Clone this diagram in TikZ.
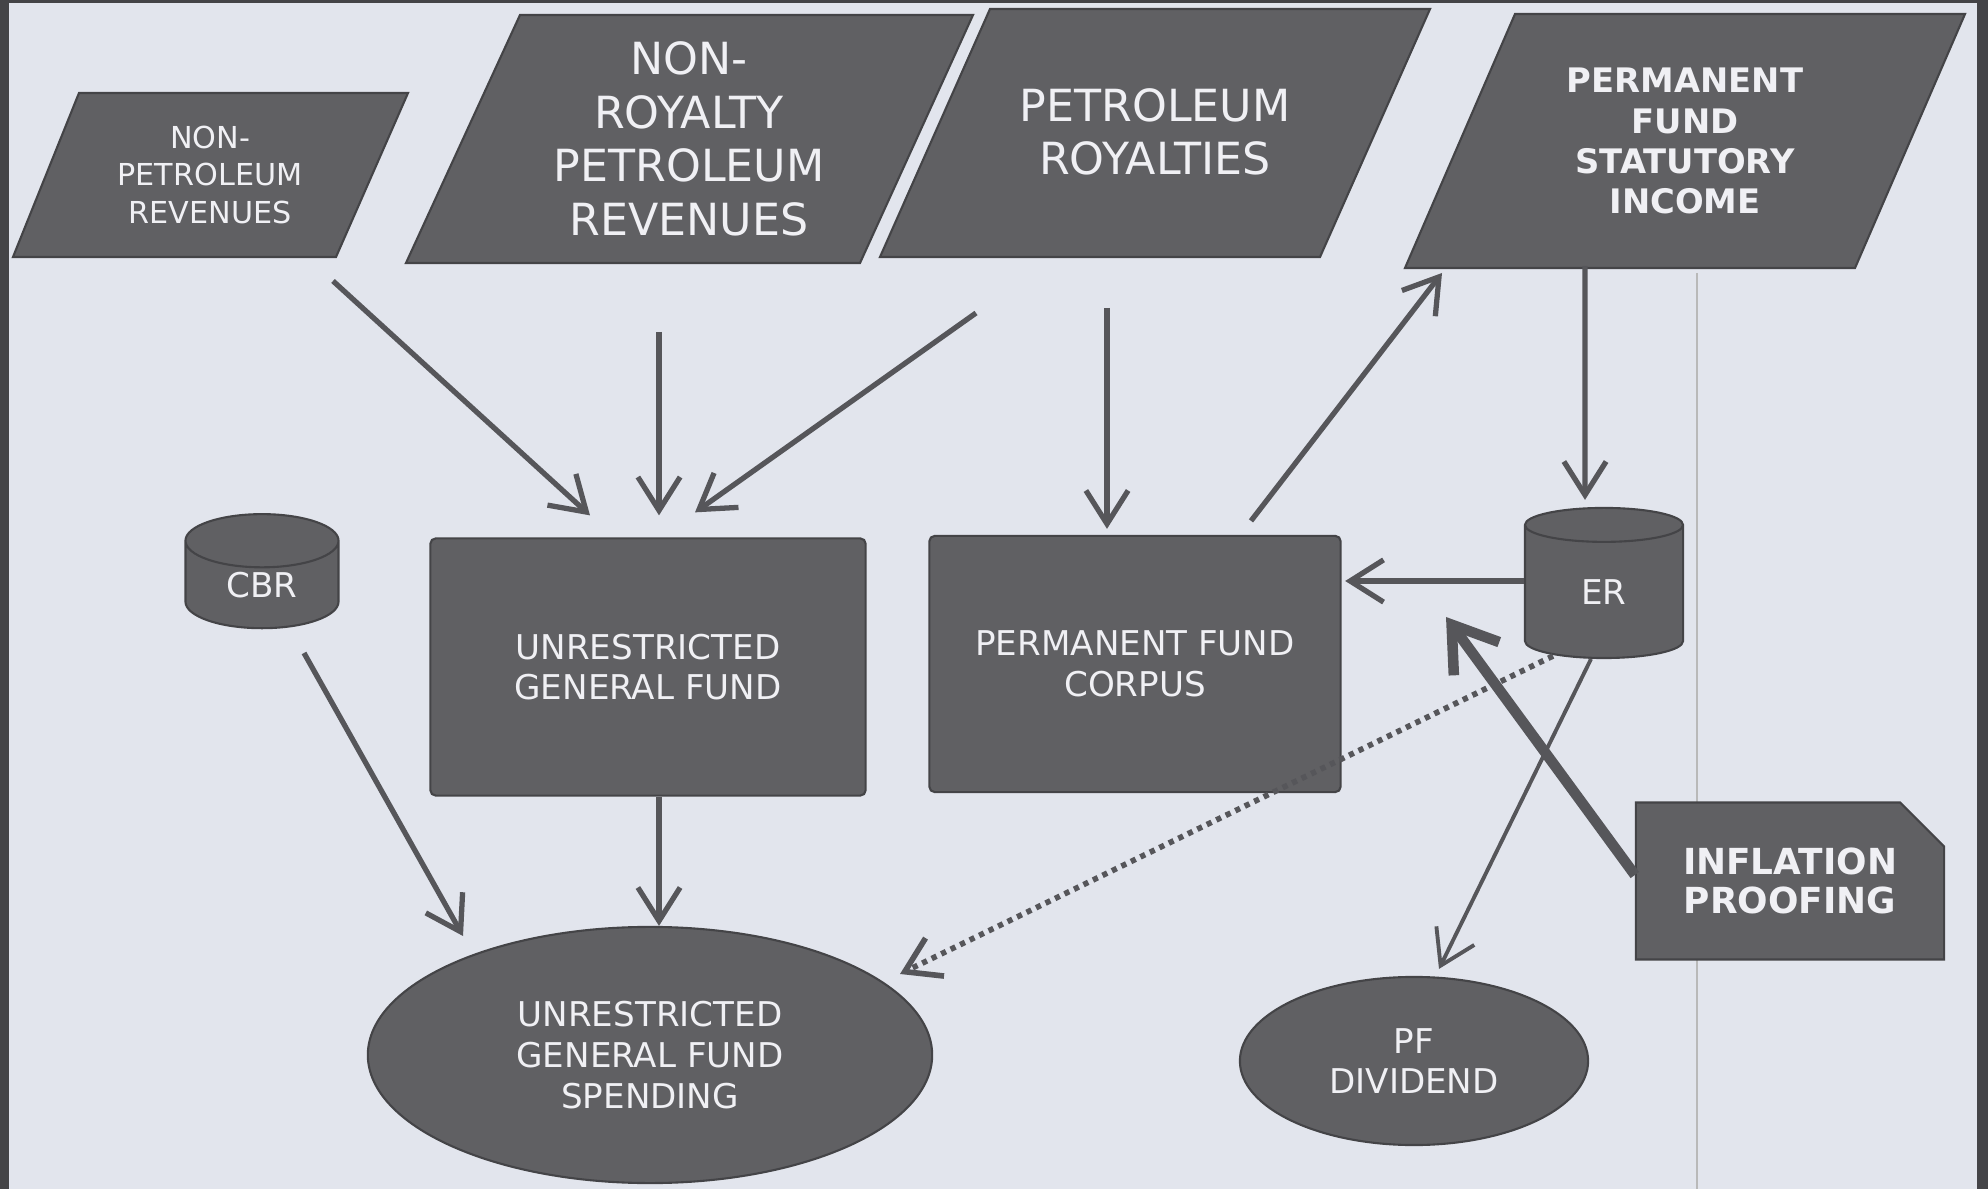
\documentclass[tikz,border=0pt]{standalone}
\usepackage{fontspec}
\setmainfont{DejaVu Sans}
\usetikzlibrary{shapes.geometric,shapes.misc,arrows.meta}

\definecolor{paper}{RGB}{226,229,237}
\definecolor{ink}{RGB}{96,96,99}
\definecolor{edge}{RGB}{68,68,71}
\definecolor{wire}{RGB}{86,86,90}
\definecolor{label}{RGB}{240,240,244}

\begin{document}
\begin{tikzpicture}[x=0.01cm, y=-0.01cm,
    base/.style={fill=ink, draw=edge, line width=0.6pt, text=label, align=center, inner sep=0pt},
    para/.style={fill=ink, draw=edge, line width=0.6pt},
    paratext/.style={text=label, align=center, inner sep=0pt},
    fundbox/.style={base, rectangle, rounded corners=1.5pt},
    drum/.style={base, cylinder, shape border rotate=90, aspect=0.75},
    oval/.style={base, ellipse},
    snip/.style={base, chamfered rectangle, chamfered rectangle corners=north east,
      chamfered rectangle xsep=0.22cm, chamfered rectangle ysep=0.22cm},
    small/.style={font=\fontsize{9.7}{11.6}\selectfont},
    big/.style={font=\fontsize{12.6}{15.2}\selectfont},
    heavy/.style={font=\fontsize{9.6}{11.4}\selectfont\bfseries},
    flow/.style={draw=wire, line width=1.5pt, -{Straight Barb[length=9.5pt, width=12pt]}}]

  % page
  \fill[paper] (0,0) rectangle (1988,1189);
  \useasboundingbox (0,0) rectangle (1988,1189);
  \fill[edge] (0,0) rectangle (9,1189);
  \fill[edge] (1977,0) rectangle (1988,1189);
  \fill[edge] (0,0) rectangle (1988,3);
  \draw[gray!55, line width=0.4pt] (1697,273) -- (1697,1189);

  % revenue sources
  \draw[para] (13,257) -- (336,257) -- (408,93) -- (79,93) -- cycle;
  \node[paratext, font=\fontsize{8.6}{10.8}\selectfont] (nonpet) at (210,175)
    {NON-\\PETROLEUM\\REVENUES};

  \draw[para] (406,263) -- (860,263) -- (973,15) -- (520,15) -- cycle;
  \node[paratext, big] (nonroy) at (689,139) {NON-\\ROYALTY\\PETROLEUM\\REVENUES};

  \draw[para] (880,257) -- (1320,257) -- (1430,9) -- (990,9) -- cycle;
  \node[paratext, big] (royal) at (1155,132) {PETROLEUM\\ROYALTIES};

  \draw[para] (1405,268) -- (1855,268) -- (1965,14) -- (1515,14) -- cycle;
  \node[paratext, heavy] (statin) at (1685,141) {PERMANENT\\FUND\\STATUTORY\\INCOME};

  % funds
  \node[drum, small, minimum width=1.53cm, minimum height=1.14cm] (cbr) at (262,585) {CBR};
  \node[fundbox, small, minimum width=4.35cm, minimum height=2.57cm] (ugf) at (648,667)
    {UNRESTRICTED\\GENERAL FUND};
  \node[fundbox, small, minimum width=4.11cm, minimum height=2.56cm] (pfc) at (1135,664)
    {PERMANENT FUND\\CORPUS};
  \node[drum, small, minimum width=1.58cm, minimum height=1.50cm] (er) at (1604,592) {ER};

  % uses
  \node[oval, small, minimum width=5.64cm, minimum height=2.56cm] (ugfs) at (650,1055)
    {UNRESTRICTED\\GENERAL FUND\\SPENDING};
  \node[oval, small, minimum width=3.48cm, minimum height=1.68cm] (pfdiv) at (1414,1061)
    {PF\\DIVIDEND};
  \node[snip, font=\fontsize{10.2}{11}\selectfont\bfseries,
    minimum width=3.08cm, minimum height=1.57cm] (infl) at (1790,881) {INFLATION\\PROOFING};
  \coordinate (iptip) at (1446,617);

  % flows
  \draw[flow] ([shift={(123,106)}]nonpet.center) -- ([shift={(-58,-22)}]ugf.north);
  \draw[flow] ([shift={(-30,193)}]nonroy.center) -- ([shift={(11,-22)}]ugf.north);
  \draw[flow] ([shift={(-179,181)}]royal.center) -- ([shift={(47,-25)}]ugf.north);
  \draw[flow] ([shift={(-48,176)}]royal.center) -- ([shift={(-28,-6)}]pfc.north);
  \draw[flow] ([shift={(116,-14)}]pfc.north) -- ([shift={(-243,132)}]statin.center);
  \draw[flow] ([shift={(-100,125)}]statin.center) -- ([shift={(-19,-7)}]er.north);
  \draw[flow, shorten >=1pt] ([shift={(0,-11)}]er.west) coordinate (erout)
    -- (erout -| pfc.east);
  \draw[flow, line width=3pt, -{Straight Barb[length=12pt, width=16pt]}]
    ([shift={(0,-6)}]infl.west) -- (iptip);
  \draw[flow, line width=1.1pt] ([shift={(-13,67)}]er.center) -- ([shift={(25,-7)}]pfdiv.north);
  \draw[flow, line width=1.6pt, dash pattern=on 1.5pt off 1.5pt]
    ([shift={(-51,64)}]er.center) -- ([shift={(250,-81)}]ugfs.center);
  \draw[flow] ([shift={(42,68)}]cbr.center) -- ([shift={(-187,-119)}]ugfs.center);
  \draw[flow] ([shift={(11,0)}]ugf.south) -- ([shift={(9,0)}]ugfs.north);

\end{tikzpicture}
\end{document}
